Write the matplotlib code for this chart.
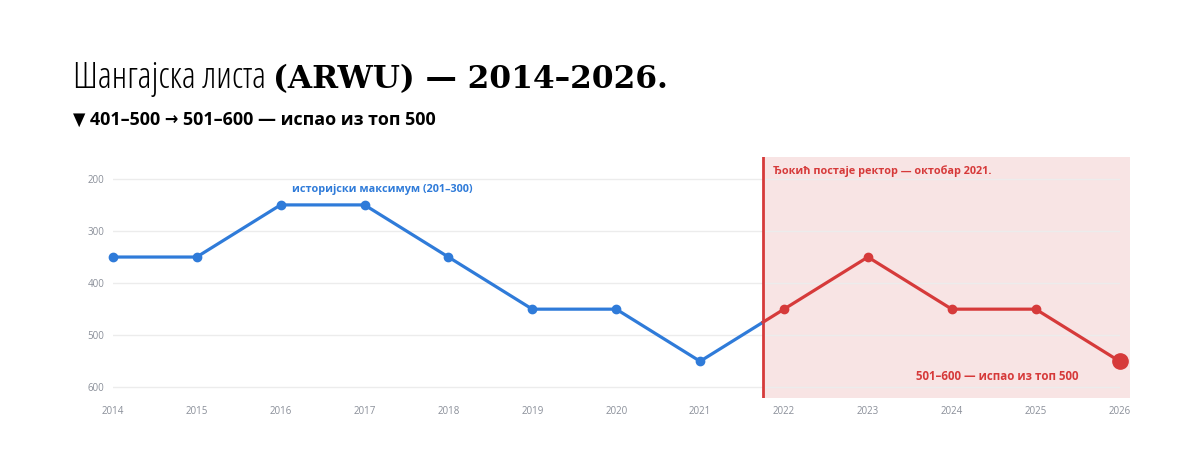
import matplotlib.pyplot as plt
import numpy as np

years = [2014, 2015, 2016, 2017, 2018, 2019, 2020, 2021, 2022, 2023, 2024, 2025, 2026]
rank = [350, 350, 250, 250, 350, 450, 450, 550, 450, 350, 450, 450, 550]
rector_year = 2021.75
yticks = [200, 300, 400, 500, 600]

title_a = "Шангајска листа "
title_b = "(ARWU) — 2014–2026."
subtitle = "▼ 401–500 → 501–600 — испао из топ 500"
note_max = "историјски максимум (201–300)"
note_rector = "Ђокић постаје ректор — октобар 2021."
note_end = "501–600 — испао из топ 500"

blue = "#2f7bd9"
red = "#d63a3a"
shade = "#f8e4e4"

plt.rcParams['font.family'] = ['Open Sans', 'DejaVu Sans']

fig = plt.figure(figsize=(12, 4.51), dpi=100)
ax = fig.add_axes([0.094, 0.118, 0.839, 0.534])

yrs = np.array(years, dtype=float)
rk = np.array(rank, dtype=float)
split_val = np.interp(rector_year, yrs, rk)
before = yrs < rector_year

bx = np.append(yrs[before], rector_year)
by = np.append(rk[before], split_val)
rx = np.insert(yrs[~before], 0, rector_year)
ry = np.insert(rk[~before], 0, split_val)

ax.axvspan(rector_year, years[-1] + 0.12, color=shade, zorder=0, lw=0, clip_on=False)
ax.axvline(rector_year, color=red, lw=2, zorder=3)

ax.plot(bx, by, color=blue, lw=2.3, zorder=4)
ax.plot(yrs[before], rk[before], 'o', color=blue, ms=6, zorder=5, clip_on=False)
ax.plot(rx, ry, color=red, lw=2.3, zorder=4)
ax.plot(yrs[~before][:-1], rk[~before][:-1], 'o', color=red, ms=6, zorder=5)
ax.plot(yrs[-1], rk[-1], 'o', color=red, ms=11, zorder=5, clip_on=False)

ax.set_xlim(years[0], years[-1])
ax.set_ylim(620, 158)
ax.set_yticks(yticks)
ax.set_xticks(years)
ax.grid(axis='y', color='#ececec', lw=1)
ax.tick_params(length=0, labelsize=7, labelcolor='#8a8f99', pad=6)
for s in ax.spines.values():
    s.set_visible(False)

ax.text(2016.13, 221, note_max, color=blue, fontsize=7.8, fontweight='bold', va='center')
ax.text(rector_year + 0.12, 185, note_rector, color=red, fontsize=7.8, fontweight='bold', va='center')
ax.text(2025.51, 579, note_end, color=red, fontsize=8.3, fontweight='bold', va='center', ha='right')

t1 = fig.text(0.061, 0.805, title_a, fontsize=26, stretch='condensed',
              family=['Open Sans', 'DejaVu Sans'])
fig.canvas.draw()
bb = t1.get_window_extent()
fig.text(bb.x1 / fig.bbox.width, 0.805, title_b, fontsize=22.5, fontweight='bold',
         family=['DejaVu Serif'])
fig.text(0.061, 0.723, subtitle, fontsize=12.9, fontweight='bold', stretch='condensed')

fig.savefig('out.png', dpi=100)
